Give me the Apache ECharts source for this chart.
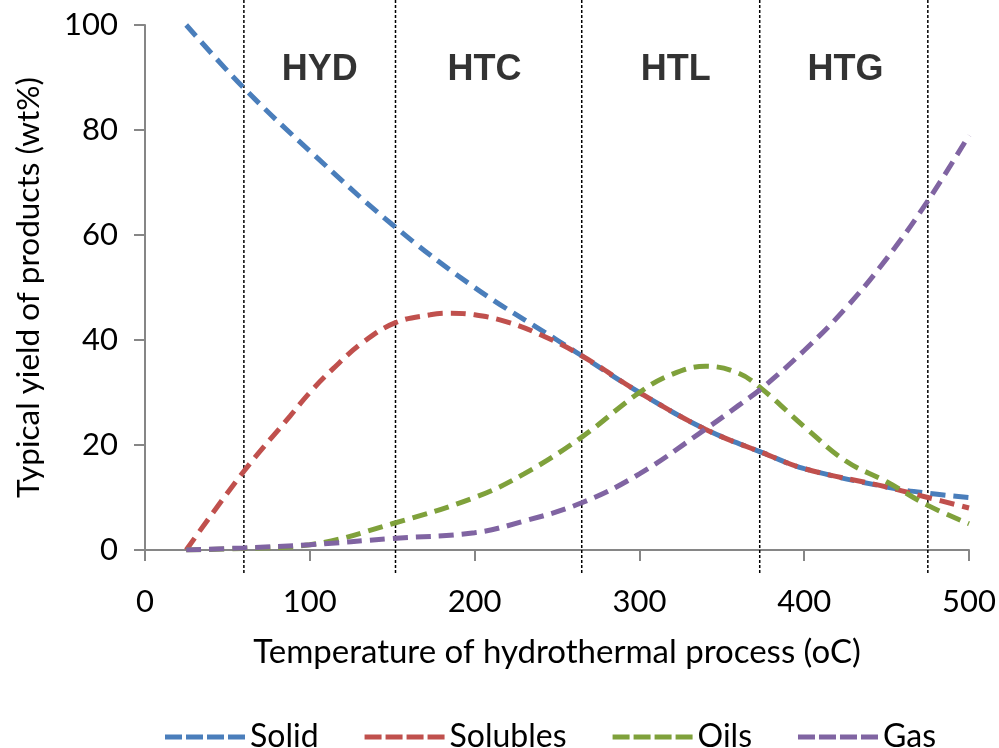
<!DOCTYPE html>
<html>
<head>
<meta charset="utf-8">
<script src="https://cdn.jsdelivr.net/npm/echarts@6/dist/echarts.min.js"></script>
<style>
  html, body { margin: 0; padding: 0; background: #fff; }
  #chart { width: 999px; height: 748px; }
</style>
</head>
<body>
<div id="chart"></div>
<script>
// values: [temperature, wt%]
const solid = [[25, 100], [60, 88], [100, 76], [150, 62], [200, 50], [250, 40], [265, 37], [300, 30], [340, 23], [375, 18.5], [400, 15.5], [450, 12], [475, 10.8], [500, 10]];
const solubles = [[25, 0], [60, 15], [88, 25.5], [100, 30], [114, 34.5], [132, 39.5], [152, 43.3], [173, 44.8], [185, 45.1], [200, 44.8], [219, 43.5], [240, 41], [265, 37], [300, 30], [340, 23], [375, 18.5], [400, 15.5], [450, 12], [475, 10], [500, 8]];
const oils = [[25, 0], [60, 0.3], [100, 1], [150, 5], [200, 10], [230, 14.5], [265, 21.5], [300, 30], [320, 33.5], [340, 35], [360, 33.7], [375, 30.5], [400, 23.5], [425, 17], [450, 13], [475, 8.5], [500, 5]];
const gas = [[25, 0], [60, 0.4], [100, 1], [150, 2.2], [200, 3.3], [230, 5.5], [265, 9], [300, 14.5], [340, 23], [360, 27.5], [375, 31], [400, 38], [425, 46], [450, 55.5], [475, 66.5], [500, 79]];

// process boundaries and region labels
const dividers = [60, 152, 265, 373, 475];
const regions = [[106, 91.4, 'HYD'], [206, 91.4, 'HTC'], [322, 91.4, 'HTL'], [425, 91.4, 'HTG']];

const names = ['Solid', 'Solubles', 'Oils', 'Gas'];
const colors = ['#4A7EBB', '#C0504D', '#7FA13B', '#8064A2'];
const curves = [solid, solubles, oils, gas];

const font = 'Lato, "Open Sans", sans-serif';
// four short dashes for the legend sample
const dashIcon = 'path://M0,0H17V5H0Z M21,0H38V5H21Z M42,0H59V5H42Z M63,0H80V5H63Z';

const chart = echarts.init(document.getElementById('chart'), null, { renderer: 'canvas' });

const series = curves.map(function (d, i) {
  return {
    name: names[i],
    type: 'line',
    data: d,
    smooth: 0.4,
    showSymbol: false,
    symbol: 'none',
    z: 3,
    lineStyle: { color: colors[i], width: 5, type: [15, 8] },
    itemStyle: { color: colors[i] }
  };
});

dividers.forEach(function (x) {
  series.push({
    type: 'line',
    data: [[x, -4.4], [x, 104.8]],
    clip: false,
    silent: true,
    symbol: 'none',
    z: 2,
    lineStyle: { color: '#000', width: 1.5, type: [3, 2] }
  });
});

series.push({
  type: 'scatter',
  data: regions,
  symbolSize: 0,
  silent: true,
  label: {
    show: true,
    position: 'inside',
    formatter: function (p) { return p.value[2]; },
    color: '#000',
    fontSize: 36,
    fontWeight: 'bold',
    fontFamily: '"Liberation Sans", Arial, sans-serif'
  }
});

chart.setOption({
  animation: false,
  backgroundColor: '#fff',
  grid: { left: 145, right: 29, top: 25, bottom: 198, containLabel: false },
  legend: {
    data: names.map(function (n) { return { name: n, icon: dashIcon }; }),
    top: 716,
    left: 160,
    itemWidth: 80,
    itemHeight: 5,
    itemGap: 46,
    textStyle: { fontSize: 32, color: '#000', fontFamily: font }
  },
  xAxis: {
    type: 'value',
    min: 0,
    max: 500,
    interval: 100,
    name: 'Temperature of hydrothermal process (oC)',
    nameLocation: 'middle',
    nameGap: 86,
    nameTextStyle: { fontSize: 33, color: '#000', fontFamily: font },
    axisLine: { lineStyle: { color: '#868686', width: 2 } },
    axisTick: { show: true, length: 11, lineStyle: { color: '#868686', width: 2 } },
    axisLabel: { fontSize: 31, color: '#000', margin: 36, fontFamily: font },
    splitLine: { show: false }
  },
  yAxis: {
    type: 'value',
    min: 0,
    max: 100,
    interval: 20,
    name: 'Typical yield of products (wt%)',
    nameLocation: 'middle',
    nameGap: 100,
    nameRotate: 90,
    nameTextStyle: { fontSize: 31.5, color: '#000', fontFamily: font },
    axisLine: { show: true, lineStyle: { color: '#868686', width: 2 } },
    axisTick: { show: true, length: 11, lineStyle: { color: '#868686', width: 2 } },
    axisLabel: { fontSize: 31, color: '#000', margin: 27, fontFamily: font },
    splitLine: { show: false }
  },
  series: series
});
</script>
</body>
</html>
